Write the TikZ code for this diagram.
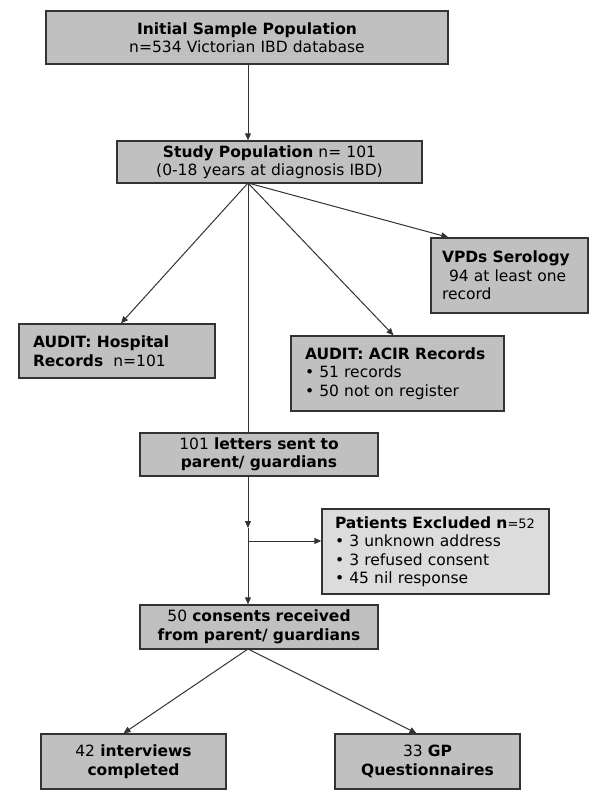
\documentclass[tikz,border=0pt]{standalone}
\usepackage{fontspec}
\setmainfont{DejaVu Sans}
\usetikzlibrary{arrows.meta,calc}
\definecolor{boxfill}{HTML}{C0C0C0}
\definecolor{lightfill}{HTML}{DCDCDC}
\definecolor{edge}{HTML}{333333}
\begin{document}
\begin{tikzpicture}[x=1pt,y=-1pt,
  box/.style={draw=edge, line width=1.4pt, fill=boxfill, inner sep=0pt,
    font=\fontsize{15.5}{18.5}\selectfont, text=black},
  arr/.style={draw=edge, line width=1pt, -{Triangle[length=7pt,width=6pt]}},
  ln/.style={draw=edge, line width=1pt}]
\useasboundingbox (0,0) rectangle (600,803);
\fill[white] (0,0) rectangle (600,803);

\node[box, minimum width=402pt, minimum height=53pt, text width=380pt, align=center] (init) at (247,37.5)
  {\textbf{Initial Sample Population}\\n=534 Victorian IBD database};
\node[box, minimum width=305pt, minimum height=42pt, text width=290pt, align=center] (study) at (269.5,162)
  {\textbf{Study Population} n= 101\\(0-18 years at diagnosis IBD)};
\node[box, minimum width=157pt, minimum height=75pt, text width=135pt, align=left] (vpds) at (509.5,275.5)
  {\textbf{VPDs Serology}\\\hspace*{7pt}94 at least one\\record};
\node[box, minimum width=196pt, minimum height=54pt, text width=168pt, align=left] (hospital) at (117,351)
  {\textbf{AUDIT: Hospital}\\\textbf{Records}\hspace{5pt} n=101};
\node[box, minimum width=213pt, minimum height=75pt, text width=185pt, align=left] (acir) at (397.5,373.5)
  {\textbf{AUDIT: ACIR Records}\\• 51 records\\• 50 not on register};
\node[box, minimum width=238pt, minimum height=43pt, text width=220pt, align=center] (letters) at (259,454.5)
  {101 \textbf{letters sent to}\\\textbf{parent/ guardians}};
\node[box, fill=lightfill, minimum width=227pt, minimum height=85pt, text width=201pt, align=left] (patients) at (435.5,551.5)
  {\textbf{Patients Excluded n}{\fontsize{13}{18.5}\selectfont=52}\\• 3 unknown address\\• 3 refused consent\\• 45 nil response};
\node[box, minimum width=238pt, minimum height=44pt, text width=220pt, align=center] (consents) at (259,627)
  {50 \textbf{consents received}\\\textbf{from parent/ guardians}};
\node[box, minimum width=185pt, minimum height=55pt, text width=170pt, align=center] (interviews) at (133.5,761.5)
  {42 \textbf{interviews}\\\textbf{completed}};
\node[box, minimum width=185pt, minimum height=55pt, text width=170pt, align=center] (gp) at (427.5,761.5)
  {33 \textbf{GP}\\\textbf{Questionnaires}};

\coordinate (hub) at (248,183);
\coordinate (m1) at (248,528);
\coordinate (br) at (248,541);
\coordinate (hub2) at (248,649);

\draw[arr] (hub |- init.south) -- (hub |- study.north);
\draw[arr] (hub) -- ($(hospital.north)+(4,0)$);
\draw[arr] (hub) -- ($(acir.north)+(-4,0)$);
\draw[arr] (hub) -- ($(vpds.north west)+(18,0)$);
\draw[ln] (hub) -- (hub |- letters.north);
\draw[arr] (hub |- letters.south) -- (m1);
\draw[arr] (m1) -- (hub |- consents.north);
\draw[arr] (br) -- (br -| patients.west);
\draw[arr] (hub2) -- ($(interviews.north)+(-10,0)$);
\draw[arr] (hub2) -- ($(gp.north)+(-11,0)$);
\end{tikzpicture}
\end{document}
